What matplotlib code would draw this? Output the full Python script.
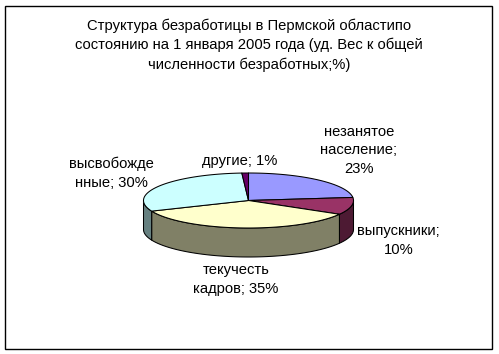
import numpy as np
import matplotlib
matplotlib.use("Agg")
import matplotlib.pyplot as plt
from matplotlib.patches import Polygon, Rectangle

title = "Структура безработицы в Пермской областипо\nсостоянию на 1 января 2005 года (уд. Вес к общей\nчисленности безработных;%)"
categories = ["незанятое\nнаселение", "выпускники", "текучесть\nкадров", "высвобожде\nнные", "другие"]
values = [23, 10, 35, 30, 1]
separators = [";\n", ";\n", "; ", "; ", "; "]
top_colors = ["#9999FF", "#993366", "#FFFFCC", "#CCFFFF", "#660066"]
side_colors = ["#4D4D80", "#4D1A33", "#808066", "#668080", "#330033"]

W, H = 499, 354
DPI = 100
fig = plt.figure(figsize=(W / DPI, H / DPI), dpi=DPI)
ax = fig.add_axes([0, 0, 1, 1])
ax.set_xlim(0, W)
ax.set_ylim(H, 0)
ax.axis("off")
FONT = dict(family="Liberation Sans", fontsize=10.65, color="#000000", ha="center", va="center")
LW = 0.75

ax.add_patch(Rectangle((5.5, 5.5), 487, 343, fc="white", ec="black", lw=1.0))

cx, cy, a, b, depth = 248.5, 200.5, 105, 27.5, 29


def pts(t0, t1, dy=0.0):
    t = np.radians(np.linspace(t0, t1, max(2, int(abs(t1 - t0) * 2) + 1)))
    return np.column_stack([cx + a * np.sin(t), cy - b * np.cos(t) + dy])


edges = np.concatenate([[0], np.cumsum(values)]) / np.sum(values) * 360

# visible rim
for i in range(len(values)):
    t0, t1 = max(edges[i], 90), min(edges[i + 1], 270)
    if t1 > t0:
        poly = np.vstack([pts(t0, t1), pts(t0, t1, depth)[::-1]])
        ax.add_patch(Polygon(poly, closed=True, fc=side_colors[i], ec="black", lw=LW, joinstyle="round"))

# top faces
for i in range(len(values)):
    poly = np.vstack([[[cx, cy]], pts(edges[i], edges[i + 1])])
    ax.add_patch(Polygon(poly, closed=True, fc=top_colors[i], ec="black", lw=LW, joinstyle="round"))

ax.text(249, 45, title, linespacing=1.43, **FONT)

label_pos = [(359, 150.5), (398.5, 240.5), (236, 279.5), (111, 173.5), (240, 161.5)]
for name, v, sep, (x, y) in zip(categories, values, separators, label_pos):
    ax.text(x, y, f"{name}{sep}{v}%", linespacing=1.43, **FONT)

fig.savefig("out.png", dpi=DPI, facecolor="white")
